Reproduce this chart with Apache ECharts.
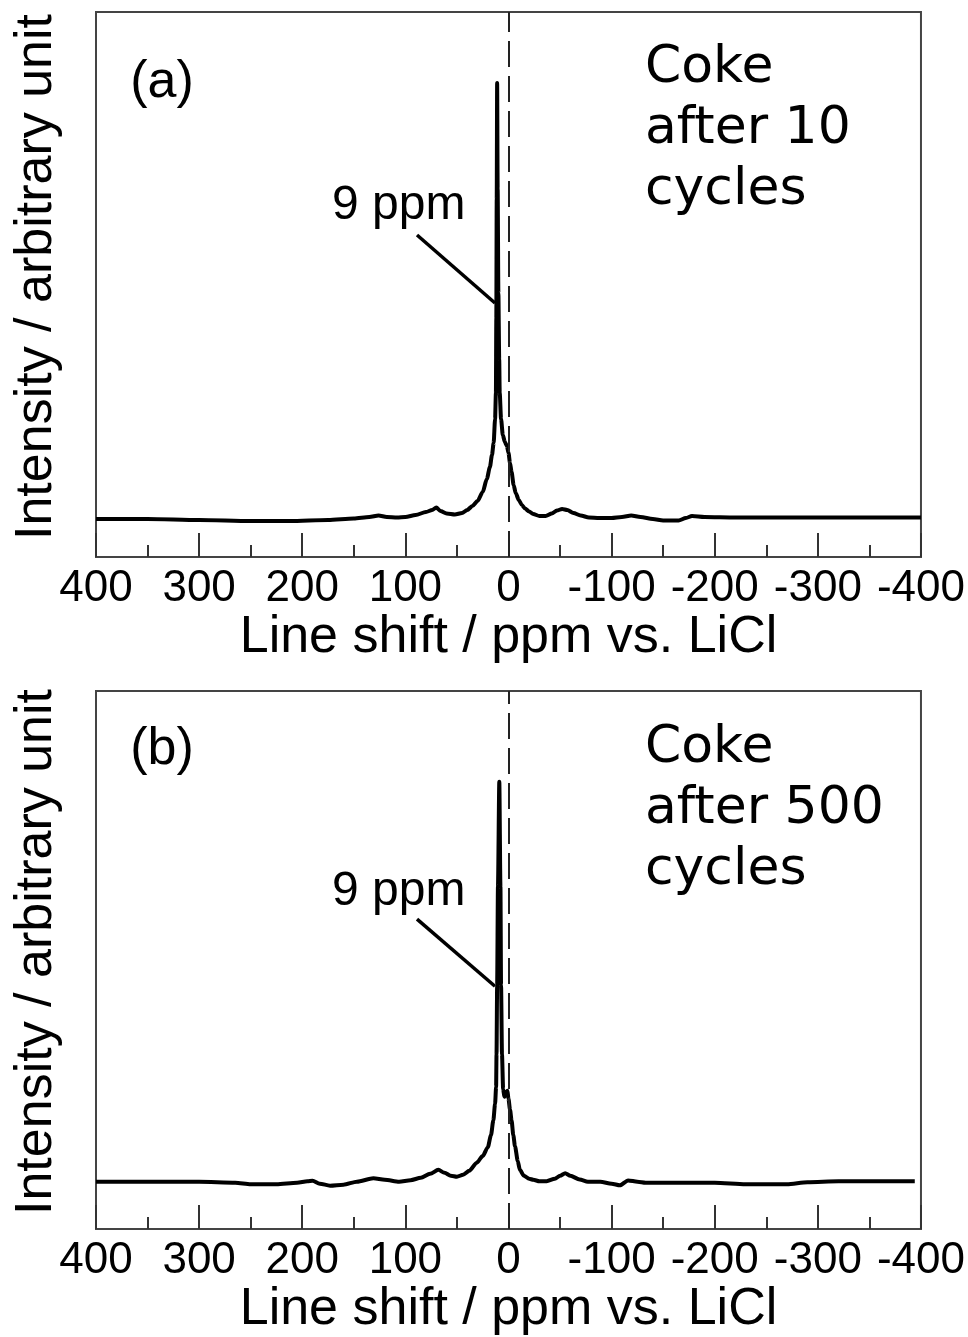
<!DOCTYPE html>
<html>
<head>
<meta charset="utf-8">
<script src="https://cdn.jsdelivr.net/npm/echarts@6/dist/echarts.min.js"></script>
<style>
html,body{margin:0;padding:0;background:#fff;}
#c{width:968px;height:1337px;}
</style>
</head>
<body>
<div id="c"></div>
<script>
// Panel (a): Coke after 10 cycles
const shiftA = [400, 350, 300, 250, 212, 175, 150, 135, 126, 118, 108, 100, 90, 80, 74, 70, 66, 60, 52, 45, 40, 35, 30, 25, 21, 18, 16, 14.4, 13, 12.2, 11.8, 11.4, 11, 10.5, 9.8, 9, 8.5, 7.2, 5.5, 3.5, 1.5, 0, -1.5, -3, -5, -7, -10, -13, -16, -20, -24, -30, -36, -42, -47, -52, -57, -63, -70, -78, -88, -100, -110, -119, -128, -140, -150, -165, -172, -178, -190, -220, -250, -300, -350, -400];
const intensityA = [0, 0, -1, -2, -2, -1, 0.5, 2, 3.5, 2, 1.5, 2, 4, 7, 9, 11.5, 8, 5.5, 4.5, 6, 9, 13, 18, 27, 40, 52, 64, 76, 100, 126, 200, 320, 436, 330, 226, 160, 126, 100, 84, 77, 73, 66, 56, 47, 34, 26, 19, 14, 10.5, 7.5, 5, 3, 3, 5.5, 8.5, 10, 9, 6, 3.5, 1.5, 1, 1, 2, 3.5, 2, 0, -1.5, -1.5, 1, 3, 2, 1.5, 1.5, 1.5, 1.5, 1.5];

// Panel (b): Coke after 500 cycles
const shiftB = [400, 350, 300, 265, 250, 225, 205, 195, 190, 183, 173, 160, 147, 131, 120, 106, 95, 85, 76, 68, 62, 56, 50, 44, 38, 31, 25, 20, 17, 14.7, 13, 12, 11.6, 11, 10.2, 8.9, 7.8, 7.2, 6.3, 5.2, 4, 2.5, 1, 0, -1.5, -3, -4.7, -6.3, -9, -11, -15, -20, -24, -30, -37, -45, -50, -55, -60, -69, -77, -89, -100, -108, -116, -125, -133, -160, -200, -230, -270, -290, -320, -360, -394];
const intensityB = [1, 1, 1, 0, -1.5, -1.5, 0, 1.5, 2, -1, -3, -2, 1, 4.5, 3, 1, 2.5, 5, 9, 13, 10, 7, 6, 8, 12, 20, 27, 36, 48, 63, 80, 97, 130, 200, 300, 406, 300, 200, 130, 95, 87, 91, 93, 85, 74, 63, 48, 37, 22, 13, 7, 4, 3, 1.5, 1.5, 4, 7, 9.5, 7, 3.3, 1, 1, -1, -2.7, 2.3, 1, 0, 0, 0, -1.5, -1.5, 0.5, 1.5, 1.5, 1.5];

// Axis settings
const xTicks = [400, 300, 200, 100, 0, -100, -200, -300, -400];
const xTitle = 'Line shift / ppm vs. LiCl';
const yTitle = 'Intensity / arbitrary unit';
const panelLabels = ['(a)', '(b)'];
const sampleTexts = ['Coke\nafter 10\ncycles', 'Coke\nafter 500\ncycles'];
const peakLabel = '9 ppm';
// annotation leader lines in data coords [shift, intensity]
const leaderA = [[88.7, 284], [13.1, 216]];
const leaderB = [[88.7, 267], [13.1, 199]];

const pairs = (xs, ys) => xs.map((x, i) => [x, ys[i]]);

const chart = echarts.init(document.getElementById('c'), null, {renderer: 'canvas'});

function xAxisCfg(gi) {
  return {
    gridIndex: gi, type: 'value', min: -400, max: 400, interval: 100, inverse: true,
    axisLine: {show: true, onZero: false, lineStyle: {color: '#444', width: 2}},
    axisTick: {show: true, inside: true, length: 24, lineStyle: {color: '#333', width: 2}},
    minorTick: {show: true, splitNumber: 2, length: 12, lineStyle: {color: '#333', width: 2}},
    splitLine: {show: false},
    axisLabel: {fontSize: 44, fontFamily: 'Liberation Sans, Arial, sans-serif', color: '#000', margin: 10},
    name: xTitle, nameLocation: 'middle', nameGap: 54,
    nameTextStyle: {fontSize: 52, fontFamily: 'Liberation Sans, Arial, sans-serif', color: '#000'}
  };
}
function yAxisCfg(gi, mn, mx) {
  return {gridIndex: gi, type: 'value', min: mn, max: mx, show: false, splitLine: {show: false}};
}
function seriesCfg(gi, data, leader) {
  return {
    type: 'line', xAxisIndex: gi, yAxisIndex: gi, data: data,
    showSymbol: false, smooth: 0.25, smoothMonotone: 'x',
    lineStyle: {color: '#000', width: 4}, silent: true, animation: false,
    markLine: {
      silent: true, symbol: ['none', 'none'], animation: false, label: {show: false},
      data: [
        {xAxis: 0, lineStyle: {type: [26, 9], color: '#222', width: 2}},
        [{coord: leader[0], lineStyle: {type: 'solid', color: '#000', width: 3.5}}, {coord: leader[1]}]
      ]
    }
  };
}

const annFont = 'Liberation Sans, Arial, sans-serif';
const option = {
  backgroundColor: '#fff',
  animation: false,
  grid: [
    {left: 96, right: 47, top: 12, height: 545, show: true, borderColor: '#444', borderWidth: 2, backgroundColor: 'transparent'},
    {left: 96, right: 47, top: 691, height: 545, show: true, borderColor: '#444', borderWidth: 2, backgroundColor: 'transparent'}
  ],
  xAxis: [xAxisCfg(0), xAxisCfg(1)],
  yAxis: [yAxisCfg(0, -38, 507), yAxisCfg(1, -47, 498)],
  series: [seriesCfg(0, pairs(shiftA, intensityA), leaderA), seriesCfg(1, pairs(shiftB, intensityB), leaderB)],
  graphic: [
    {type: 'text', x: 37, y: 277, rotation: Math.PI / 2, style: {text: yTitle, fontSize: 52, fontFamily: 'Liberation Sans, Arial, sans-serif', fill: '#000', textAlign: 'center', textVerticalAlign: 'middle'}},
    {type: 'text', x: 37, y: 952, rotation: Math.PI / 2, style: {text: yTitle, fontSize: 52, fontFamily: 'Liberation Sans, Arial, sans-serif', fill: '#000', textAlign: 'center', textVerticalAlign: 'middle'}},
    {type: 'text', x: 162, y: 83, style: {text: panelLabels[0], fontSize: 52, fontFamily: annFont, fill: '#000', textAlign: 'center', textVerticalAlign: 'middle'}},
    {type: 'text', x: 162, y: 750, style: {text: panelLabels[1], fontSize: 52, fontFamily: annFont, fill: '#000', textAlign: 'center', textVerticalAlign: 'middle'}},
    {type: 'text', left: 645, top: 38, style: {text: sampleTexts[0], fontSize: 52, lineHeight: 61, fontFamily: 'DejaVu Sans, sans-serif', fill: '#000', textAlign: 'left'}},
    {type: 'text', left: 645, top: 718, style: {text: sampleTexts[1], fontSize: 52, lineHeight: 61, fontFamily: 'DejaVu Sans, sans-serif', fill: '#000', textAlign: 'left'}},
    {type: 'text', x: 332, y: 206, style: {text: peakLabel, fontSize: 48, fontFamily: annFont, fill: '#000', textAlign: 'left', textVerticalAlign: 'middle'}},
    {type: 'text', x: 332, y: 892, style: {text: peakLabel, fontSize: 48, fontFamily: annFont, fill: '#000', textAlign: 'left', textVerticalAlign: 'middle'}}
  ]
};
chart.setOption(option);
</script>
</body>
</html>
